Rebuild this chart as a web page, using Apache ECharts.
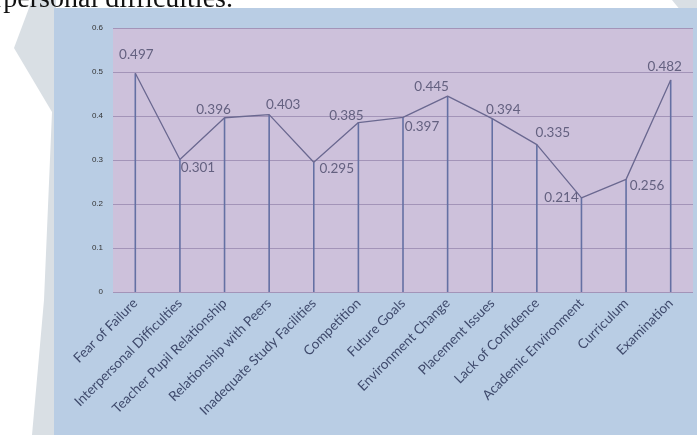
<!DOCTYPE html>
<html><head><meta charset="utf-8">
<script src="https://cdn.jsdelivr.net/npm/echarts@6/dist/echarts.min.js"></script>
<style>html,body{margin:0;padding:0;background:#fff}#c{width:697px;height:435px}</style>
</head><body><div id="c"></div>
<script>
const categories = ["Fear of Failure","Interpersonal Difficulties","Teacher Pupil Relationship","Relationship with Peers","Inadequate Study Facilities","Competition","Future Goals","Environment Change","Placement Issues","Lack of Confidence","Academic Environment","Curriculum","Examination"];
const values = [0.497,0.301,0.396,0.403,0.295,0.385,0.397,0.445,0.394,0.335,0.214,0.256,0.482];
const yTicks = [0,0.1,0.2,0.3,0.4,0.5,0.6];

const labelOffsets = [[1,-19],[18,8],[-11,-8],[14,-10],[23,6],[-12,-7],[19,9],[-16,-10],[11,-9],[16,-12],[-20,0],[21,6],[-6,-13]];
const lineData = values.map((v,i)=>({value:v,label:{offset:labelOffsets[i]}}));

const chart = echarts.init(document.getElementById('c'),null,{renderer:'canvas'});
chart.setOption({
  backgroundColor:'#ffffff',
  animation:false,
  graphic:[
    {type:'polygon',z:-10,shape:{points:[[32,0],[56,0],[56,435],[32,435],[44,300],[52,112],[14,48]]},style:{fill:'#d9dfe4'}},
    {type:'polygon',z:-10,shape:{points:[[672,0],[697,0],[697,22],[690,22]]},style:{fill:'#d9dfe4'}},
    {type:'text',z:-8,style:{x:-6,y:14,verticalAlign:'bottom',text:'rpersonal difficulties.',font:'28px "Liberation Serif", serif',fill:'#111'}},
    {type:'rect',z:-5,shape:{x:54,y:8,width:643,height:427},style:{fill:'#b9cde4'}}
  ],
  grid:{left:113,top:28,width:580,height:264,show:true,backgroundColor:'#cdc1db',borderWidth:0},
  xAxis:{type:'category',data:categories,boundaryGap:true,
    axisLine:{show:false},axisTick:{show:false},
    axisLabel:{rotate:45,interval:0,margin:9,fontSize:13.5,color:'#3f4a6c',fontFamily:'Lato'}},
  yAxis:{type:'value',min:yTicks[0],max:yTicks[yTicks.length-1],interval:0.1,
    axisLine:{show:false},axisTick:{show:false},
    axisLabel:{fontSize:8,color:'#333',margin:10,fontFamily:'Liberation Sans'},
    splitLine:{lineStyle:{color:'#a394b8',width:1}}},
  series:[
    {type:'bar',data:values,barWidth:1.6,itemStyle:{color:'#6470a3'},silent:true,z:1},
    {type:'line',data:lineData,symbol:'circle',symbolSize:1,itemStyle:{color:'rgba(0,0,0,0)'},
     lineStyle:{color:'#6a6890',width:1.3},z:2,
     label:{show:true,position:'inside',fontSize:13.5,color:'#646180',fontFamily:'Lato',formatter:p=>p.value.toFixed(3)}}
  ]
});
</script></body></html>
